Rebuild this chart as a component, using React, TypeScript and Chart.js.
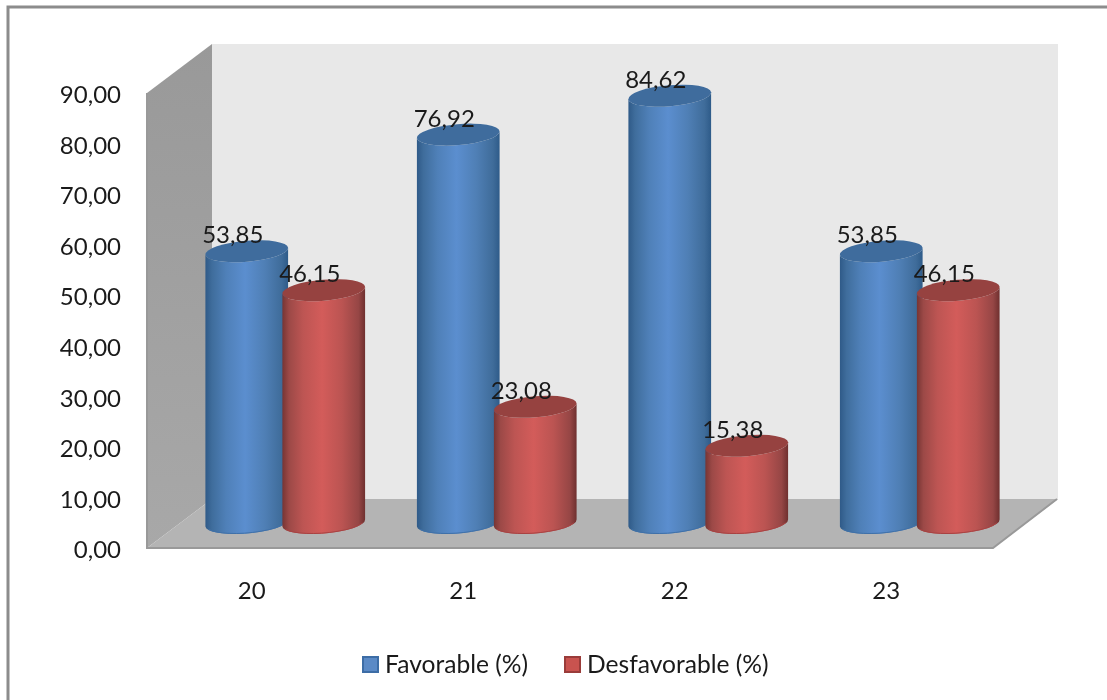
import React, { useEffect, useRef } from "react";
import { Chart, registerables } from "chart.js";

Chart.register(...registerables);

const categories = ["20", "21", "22", "23"];
const favorable = [53.85, 76.92, 84.62, 53.85];
const unfavorable = [46.15, 23.08, 15.38, 46.15];
const seriesNames = ["Favorable (%)", "Desfavorable (%)"];
const yTicks = [0, 10, 20, 30, 40, 50, 60, 70, 80, 90];

const FONT = "Lato, 'Open Sans', sans-serif";
const TEXT = "#1a1a1a";
const DEPTH_X = 65;
const DEPTH_Y = 49;

const decimalComma = (v: number) => v.toFixed(2).replace(".", ",");

const palettes = [
  {
    fill: "#5b8ac6",
    border: "#3d6da6",
    cap: "#3f6c9d",
    rim: "#3f70a8",
    stops: ["#2f5a88", "#3f6d9c", "#4f80b8", "#5b8ecf", "#4f7fb5", "#3f6c9a", "#2e5b89"],
  },
  {
    fill: "#c9534f",
    border: "#9a3c3a",
    cap: "#964240",
    rim: "#a84242",
    stops: ["#773534", "#9c4947", "#bd5553", "#d35c5a", "#bb5452", "#964645", "#6f302f"],
  },
];

// Room behind the bars: back wall, side wall and floor of the 3D box.
const drawBox = (chart: any) => {
  const { ctx, chartArea } = chart;
  const { left, right, top, bottom } = chartArea;
  const poly = (pts: number[][], fill: string | CanvasGradient) => {
    ctx.beginPath();
    pts.forEach(([x, y], i) => (i ? ctx.lineTo(x, y) : ctx.moveTo(x, y)));
    ctx.closePath();
    ctx.fillStyle = fill;
    ctx.fill();
  };
  poly(
    [
      [left + DEPTH_X, top - DEPTH_Y],
      [right + DEPTH_X, top - DEPTH_Y],
      [right + DEPTH_X, bottom - DEPTH_Y],
      [left + DEPTH_X, bottom - DEPTH_Y],
    ],
    "#e8e8e8"
  );
  const wall = ctx.createLinearGradient(0, top - DEPTH_Y, 0, bottom);
  wall.addColorStop(0, "#999999");
  wall.addColorStop(1, "#a8a8a8");
  poly(
    [
      [left, top],
      [left + DEPTH_X, top - DEPTH_Y],
      [left + DEPTH_X, bottom - DEPTH_Y],
      [left, bottom],
    ],
    wall
  );
  poly(
    [
      [left, bottom],
      [left + DEPTH_X, bottom - DEPTH_Y],
      [right + DEPTH_X, bottom - DEPTH_Y],
      [right, bottom],
    ],
    "#b4b4b4"
  );
  ctx.strokeStyle = "#999999";
  ctx.lineWidth = 2;
  ctx.beginPath();
  ctx.moveTo(left, top);
  ctx.lineTo(left, bottom);
  ctx.lineTo(right, bottom);
  ctx.lineTo(right + DEPTH_X - 1, bottom - DEPTH_Y);
  ctx.stroke();
};

// One cylinder standing on the middle of the floor.
const drawCylinder = (ctx: CanvasRenderingContext2D, bar: any, pal: (typeof palettes)[0]) => {
  const cx = bar.x + DEPTH_X / 2;
  const topY = bar.y - DEPTH_Y / 2;
  const baseY = bar.base - DEPTH_Y / 2 - 0.5;
  const rx = bar.width / 2 + 3;
  const ry = 10.5;
  const tilt = (-4.8 * Math.PI) / 180;
  const dx = rx * Math.cos(tilt);
  const dy = rx * Math.sin(tilt);

  const grad = ctx.createLinearGradient(cx - dx, 0, cx + dx, 0);
  [0, 0.08, 0.25, 0.48, 0.72, 0.92, 1].forEach((p, i) => grad.addColorStop(p, pal.stops[i]));

  ctx.beginPath();
  ctx.moveTo(cx - dx, topY - dy);
  ctx.lineTo(cx - dx, baseY - dy);
  ctx.ellipse(cx, baseY, rx, ry, tilt, Math.PI, 0, true);
  ctx.lineTo(cx + dx, topY + dy);
  ctx.ellipse(cx, topY, rx, ry, tilt, 0, Math.PI, false);
  ctx.closePath();
  ctx.fillStyle = grad;
  ctx.fill();

  ctx.beginPath();
  ctx.ellipse(cx, baseY, rx - 1, ry - 0.5, tilt, Math.PI * 0.9, Math.PI * 0.1, true);
  ctx.strokeStyle = pal.rim;
  ctx.lineWidth = 1;
  ctx.stroke();

  ctx.beginPath();
  ctx.ellipse(cx, topY, rx, ry, tilt, 0, Math.PI * 2);
  ctx.fillStyle = pal.cap;
  ctx.fill();
};

const cylinderPlugin = {
  id: "cylinders",
  beforeDraw(chart: any) {
    const { ctx, width, height } = chart;
    ctx.save();
    ctx.fillStyle = "#ffffff";
    ctx.fillRect(0, 0, width, height);
    // Frame of the chart object: only its top and left edges fall inside the canvas.
    ctx.strokeStyle = "#8c8c8c";
    ctx.lineWidth = 3;
    ctx.beginPath();
    ctx.moveTo(8, height);
    ctx.lineTo(8, 7);
    ctx.lineTo(width, 7);
    ctx.stroke();
    drawBox(chart);
    ctx.restore();
  },
  beforeDatasetsDraw(chart: any) {
    const { ctx } = chart;
    ctx.save();
    chart.data.datasets.forEach((_: any, d: number) => {
      chart.getDatasetMeta(d).data.forEach((bar: any) => drawCylinder(ctx, bar, palettes[d]));
    });
    ctx.restore();
  },
  // The flat bars are replaced by the cylinders above.
  beforeDatasetDraw() {
    return false;
  },
  afterDatasetsDraw(chart: any) {
    const { ctx } = chart;
    ctx.save();
    ctx.font = `24px ${FONT}`;
    ctx.fillStyle = TEXT;
    ctx.textAlign = "center";
    ctx.textBaseline = "middle";
    chart.data.datasets.forEach((ds: any, d: number) => {
      chart.getDatasetMeta(d).data.forEach((bar: any, i: number) => {
        ctx.fillText(
          decimalComma(ds.data[i]),
          bar.x + DEPTH_X / 2 - 14,
          bar.y - DEPTH_Y / 2 - 15.5
        );
      });
    });
    ctx.restore();
  },
  // Legend: square swatch close to its label, as a row centred under the plot.
  afterDraw(chart: any) {
    const { ctx } = chart;
    ctx.save();
    ctx.font = `24.6px ${FONT}`;
    ctx.textBaseline = "middle";
    ctx.textAlign = "left";
    const y = 665;
    let x = 362;
    chart.data.datasets.forEach((ds: any) => {
      ctx.fillStyle = ds.backgroundColor;
      ctx.strokeStyle = ds.borderColor;
      ctx.lineWidth = 2;
      ctx.fillRect(x + 1, y - 8, 15, 15);
      ctx.strokeRect(x + 1, y - 8, 15, 15);
      ctx.fillStyle = TEXT;
      ctx.fillText(ds.label, x + 23, y);
      x += 202;
    });
    ctx.restore();
  },
};

export default function App() {
  const ref = useRef<HTMLCanvasElement | null>(null);

  useEffect(() => {
    if (!ref.current) return;
    const chart = new Chart(ref.current, {
      type: "bar",
      data: {
        labels: categories,
        datasets: [
          {
            label: seriesNames[0],
            data: favorable,
            backgroundColor: palettes[0].fill,
            borderColor: palettes[0].border,
          },
          {
            label: seriesNames[1],
            data: unfavorable,
            backgroundColor: palettes[1].fill,
            borderColor: palettes[1].border,
          },
        ],
      },
      plugins: [cylinderPlugin],
      options: {
        responsive: false,
        animation: false,
        layout: { padding: { top: 93, right: 114, bottom: 92, left: 0 } },
        datasets: { bar: { categoryPercentage: 0.728, barPercentage: 1 } },
        plugins: { legend: { display: false }, tooltip: { enabled: false } },
        scales: {
          x: {
            grid: { display: false, drawTicks: false },
            border: { display: false },
            ticks: { padding: 29, labelOffset: -1, color: TEXT, font: { family: FONT, size: 24 } },
            afterFit(scale: any) {
              scale.height = 60;
            },
          },
          y: {
            min: 0,
            max: 90,
            grid: { display: false, drawTicks: false },
            border: { display: false },
            afterBuildTicks(scale: any) {
              scale.ticks = yTicks.map((value) => ({ value }));
            },
            ticks: {
              padding: 26,
              labelOffset: 2.5,
              color: TEXT,
              font: { family: FONT, size: 24 },
              callback: (v: any) => decimalComma(Number(v)),
            },
            afterFit(scale: any) {
              scale.width = 147;
            },
          },
        },
      },
    } as any);
    return () => chart.destroy();
  }, []);

  return (
    <div style={{ position: "absolute", left: 0, top: 0, width: 1107, height: 700 }}>
      <canvas ref={ref} width={1107} height={700} style={{ display: "block" }} />
    </div>
  );
}
